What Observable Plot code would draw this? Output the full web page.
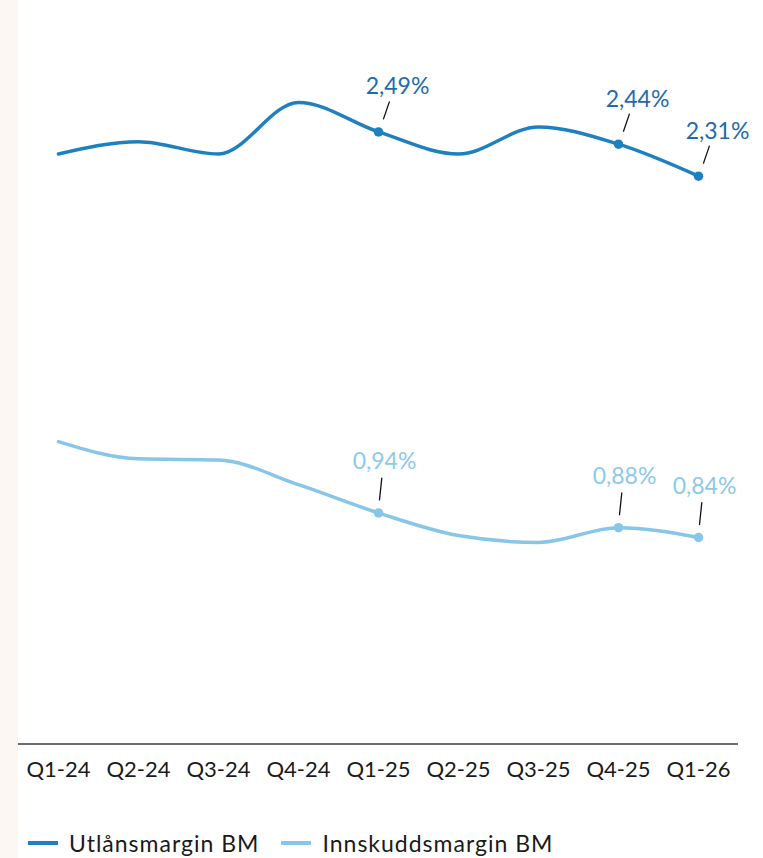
<!DOCTYPE html>
<html>
<head>
<meta charset="utf-8">
<script src="https://cdn.jsdelivr.net/npm/d3@7"></script>
<script src="https://cdn.jsdelivr.net/npm/@observablehq/plot@0.6"></script>
<style>
  html, body { margin: 0; padding: 0; }
  body {
    width: 763px; height: 858px; overflow: hidden;
    background: linear-gradient(to right, #fcf7f2 0, #fcf7f2 18px, #ffffff 18px);
    font-family: Lato, "Open Sans", sans-serif;
  }
  #legend {
    display: flex; align-items: center;
    margin-left: 28px; margin-top: 31px;
    font-size: 23px; line-height: 24px; color: #1a1a1a; letter-spacing: 1px;
  }
  .item { display: flex; align-items: center; margin-right: 22px; }
  .sw { display: inline-block; width: 30px; height: 4px; margin-right: 11px; }
</style>
</head>
<body>
<div id="chart"></div>
<div id="legend"></div>
<script>
const quarters = ["Q1-24", "Q2-24", "Q3-24", "Q4-24", "Q1-25", "Q2-25", "Q3-25", "Q4-25", "Q1-26"];
const utlansmargin = [2.40, 2.45, 2.40, 2.61, 2.49, 2.40, 2.51, 2.44, 2.31];
const innskuddsmargin = [1.23, 1.16, 1.155, 1.055, 0.94, 0.848, 0.82, 0.88, 0.84];
const labeledQuarters = ["Q1-25", "Q4-25", "Q1-26"];
const seriesNames = ["Utlånsmargin BM", "Innskuddsmargin BM"];
const lineColors = ["#1f80c0", "#87c6e8"];
const labelColors = ["#1e6bad", "#8ccaea"];

const rows = [];
quarters.forEach((q, i) => {
  rows.push({quarter: q, value: utlansmargin[i], series: seriesNames[0]});
  rows.push({quarter: q, value: innskuddsmargin[i], series: seriesNames[1]});
});
const labeled = rows.filter(d => labeledQuarters.includes(d.quarter));
const upper = labeled.filter(d => d.series === seriesNames[0]);
const lower = labeled.filter(d => d.series === seriesNames[1]);
const fmt = v => d3.format(".2f")(v).replace(".", ",") + "%";

const leader = {draw(context, l) { context.moveTo(0, 0); context.lineTo(0, -l); }};

const chart = Plot.plot({
  width: 763,
  height: 800,
  marginLeft: 18,
  marginRight: 25,
  marginTop: 6,
  marginBottom: 56.5,
  style: {background: "transparent", fontFamily: "Lato, 'Open Sans', sans-serif", overflow: "visible"},
  x: {type: "point", domain: quarters, padding: 0.5, label: null},
  y: {domain: [0, 3], axis: null},
  color: {domain: seriesNames, range: lineColors},
  marks: [
    Plot.ruleY([0], {stroke: "#3a3a3a", strokeWidth: 1.5}),
    Plot.axisX({tickSize: 0, tickPadding: 17, fontSize: 22, color: "#1a1a1a", label: null}),
    Plot.line(rows, {x: "quarter", y: "value", z: "series", stroke: "series", strokeWidth: 3.5, curve: "monotone-x"}),
    Plot.dot(labeled, {x: "quarter", y: "value", fill: "series", r: 4.75}),
    Plot.vector(upper, {x: "quarter", y: "value", shape: leader, anchor: "start", length: 18, rotate: 19, dx: 5, dy: -13, stroke: "#111", strokeWidth: 1.3}),
    Plot.vector(lower, {x: "quarter", y: "value", shape: leader, anchor: "start", length: 22, rotate: 6, dx: 1, dy: -13, stroke: "#111", strokeWidth: 1.3}),
    Plot.text(upper, {x: "quarter", y: "value", text: d => fmt(d.value), dx: 19, dy: -45, fontSize: 23, fill: labelColors[0]}),
    Plot.text(lower, {x: "quarter", y: "value", text: d => fmt(d.value), dx: 6, dy: -51, fontSize: 23, fill: labelColors[1]})
  ]
});
document.getElementById("chart").appendChild(chart);

const legend = document.getElementById("legend");
seriesNames.forEach((name, i) => {
  const item = document.createElement("div");
  item.className = "item";
  const sw = document.createElement("span");
  sw.className = "sw";
  sw.style.background = lineColors[i];
  const label = document.createElement("span");
  label.textContent = name;
  item.appendChild(sw);
  item.appendChild(label);
  legend.appendChild(item);
});
</script>
</body>
</html>
